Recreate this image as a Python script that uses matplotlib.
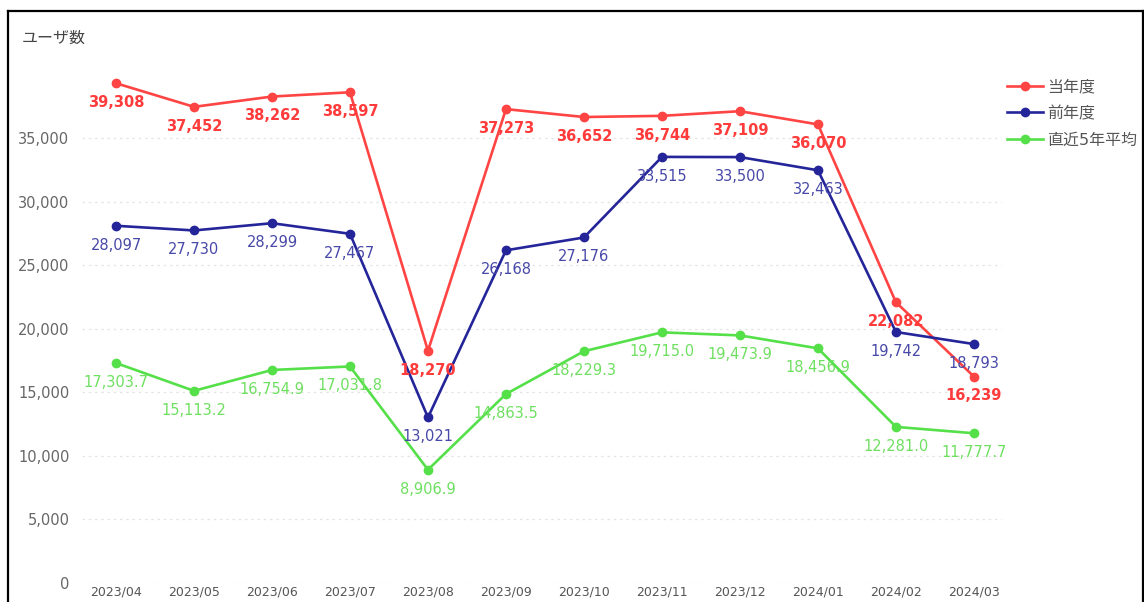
import matplotlib
matplotlib.use('Agg')
import matplotlib.pyplot as plt
from matplotlib.lines import Line2D
import numpy as np

plt.rcParams['font.family'] = ['DejaVu Sans', 'Noto Sans CJK JP']

months = ['2023/04', '2023/05', '2023/06', '2023/07', '2023/08', '2023/09',
          '2023/10', '2023/11', '2023/12', '2024/01', '2024/02', '2024/03']
this_year = [39308, 37452, 38262, 38597, 18270, 37273, 36652, 36744, 37109, 36070, 22082, 16239]
last_year = [28097, 27730, 28299, 27467, 13021, 26168, 27176, 33515, 33500, 32463, 19742, 18793]
avg_5y = [17303.7, 15113.2, 16754.9, 17031.8, 8906.9, 14863.5, 18229.3, 19715.0, 19473.9,
          18456.9, 12281.0, 11777.7]
series_names = ['当年度', '前年度', '直近5年平均']
yticks = [0, 5000, 10000, 15000, 20000, 25000, 30000, 35000]

W, H = 1144, 602
fig = plt.figure(figsize=(W / 100, H / 100), dpi=100)
ax = fig.add_axes([82 / W, (H - 583) / H, (1002 - 82) / W, (583 - 70) / H])

x = np.arange(len(months))
styles = [
    (this_year, '#ff4444', '#ff3b3b', 'bold', '{:,.0f}'),
    (last_year, '#25259a', '#4848a8', 'normal', '{:,.0f}'),
    (avg_5y, '#55e04a', '#6ee060', 'normal', '{:,.1f}'),
]
handles = []
for (vals, col, lcol, weight, fmt), name in zip(styles, series_names):
    h, = ax.plot(x, vals, color=col, lw=1.9, marker='o', ms=6, zorder=3, label=name,
                 solid_joinstyle='round')
    handles.append(h)
    for xi, v in zip(x, vals):
        ax.annotate(fmt.format(v), (xi, v), xytext=(0, -14), textcoords='offset points',
                    ha='center', va='center', fontsize=10.5, color=lcol,
                    fontweight=weight, zorder=4)

ax.set_xlim(-0.436, 11.36)
ax.set_ylim(0, 40350)
ax.set_yticks(yticks)
ax.set_yticklabels(['{:,}'.format(v) for v in yticks], fontsize=10.5, color='#666666')
ax.set_xticks(x)
ax.set_xticklabels(months, fontsize=9, color='#555555')
ax.tick_params(axis='both', length=0)
ax.tick_params(axis='y', pad=9)
ax.tick_params(axis='x', pad=2)
for s in ax.spines.values():
    s.set_visible(False)
ax.grid(axis='y', color='#e4e4e4', linestyle=(0, (2, 3)), lw=0.9)
ax.set_axisbelow(True)

fig.text(22 / W, 1 - 38 / H, 'ユーザ数', fontsize=11.5, color='#444444', va='center', ha='left')

leg = fig.legend(handles=handles, loc='upper left', bbox_to_anchor=(993 / W, 1 - 65 / H),
                 frameon=False, fontsize=11.5, handlelength=2.2, labelspacing=0.72,
                 handletextpad=0.3, labelcolor='#555555')

# outer frame
for xs, ys in [((8, 8), (11, H)), ((8, 1143), (11, 11)), ((1143, 1143), (11, H))]:
    fig.add_artist(Line2D([v / W for v in xs], [1 - v / H for v in ys],
                          transform=fig.transFigure, color='black', lw=1.6))

fig.savefig('out.png', dpi=100)
